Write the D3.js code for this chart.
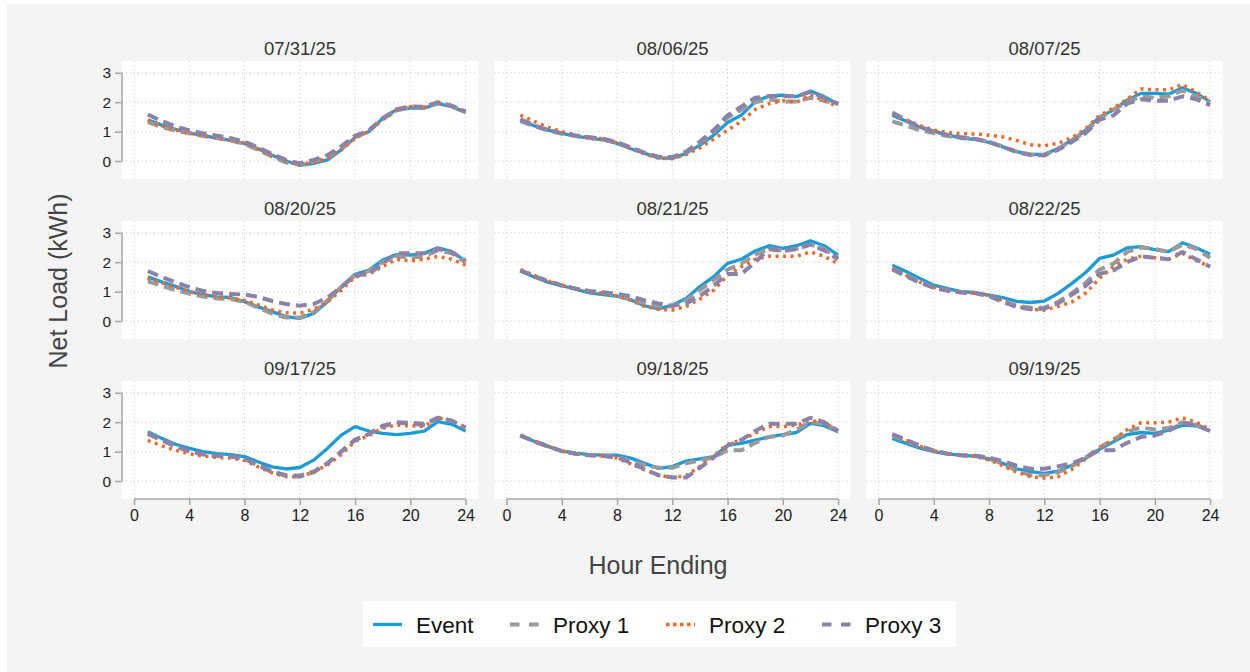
<!DOCTYPE html>
<html>
<head>
<meta charset="utf-8">
<script src="https://cdn.jsdelivr.net/npm/d3@7/dist/d3.min.js"></script>
<style>
  html, body { margin: 0; padding: 0; background: #ffffff; }
  svg { display: block; font-family: "Liberation Sans", Arial, sans-serif; }
</style>
</head>
<body>
<svg id="chart" width="1250" height="672"></svg>
<script>
// Hourly net load (kWh) for each event day and its three proxy baselines
const dates = ["07/31/25", "08/06/25", "08/07/25", "08/20/25", "08/21/25", "08/22/25", "09/17/25", "09/18/25", "09/19/25"];
const hours = [1, 2, 3, 4, 5, 6, 7, 8, 9, 10, 11, 12, 13, 14, 15, 16, 17, 18, 19, 20, 21, 22, 23, 24];
const xTicks = [0, 4, 8, 12, 16, 20, 24];
const yTicks = [0, 1, 2, 3];
const seriesNames = ["Event", "Proxy 1", "Proxy 2", "Proxy 3"];

const eventLoad = [
  [1.40, 1.22, 1.08, 0.96, 0.86, 0.78, 0.70, 0.60, 0.42, 0.20, 0.00, -0.15, -0.08, 0.04, 0.38, 0.80, 1.00, 1.45, 1.75, 1.80, 1.80, 1.95, 1.85, 1.65],
  [1.39, 1.20, 1.05, 0.94, 0.85, 0.78, 0.72, 0.60, 0.42, 0.26, 0.11, 0.09, 0.26, 0.54, 0.88, 1.31, 1.56, 2.02, 2.21, 2.24, 2.19, 2.38, 2.19, 1.93],
  [1.56, 1.35, 1.15, 1.02, 0.90, 0.77, 0.74, 0.63, 0.48, 0.32, 0.23, 0.23, 0.43, 0.71, 1.05, 1.50, 1.73, 2.07, 2.30, 2.30, 2.27, 2.49, 2.30, 2.02],
  [1.50, 1.33, 1.18, 1.00, 0.90, 0.82, 0.80, 0.66, 0.48, 0.32, 0.15, 0.09, 0.26, 0.66, 1.17, 1.59, 1.73, 2.07, 2.26, 2.24, 2.30, 2.49, 2.36, 2.04],
  [1.70, 1.50, 1.32, 1.20, 1.08, 0.96, 0.90, 0.85, 0.72, 0.52, 0.41, 0.54, 0.77, 1.17, 1.51, 1.96, 2.10, 2.38, 2.56, 2.47, 2.56, 2.73, 2.56, 2.24],
  [1.90, 1.68, 1.45, 1.22, 1.10, 1.00, 0.97, 0.88, 0.80, 0.67, 0.63, 0.68, 0.94, 1.28, 1.65, 2.13, 2.24, 2.49, 2.53, 2.43, 2.36, 2.66, 2.49, 2.27],
  [1.68, 1.45, 1.25, 1.11, 1.00, 0.93, 0.90, 0.83, 0.65, 0.48, 0.41, 0.46, 0.71, 1.11, 1.56, 1.85, 1.70, 1.62, 1.58, 1.62, 1.70, 2.02, 1.93, 1.70],
  [1.54, 1.35, 1.18, 1.02, 0.95, 0.90, 0.88, 0.88, 0.78, 0.60, 0.43, 0.49, 0.68, 0.75, 0.83, 1.22, 1.28, 1.39, 1.50, 1.58, 1.65, 1.96, 1.88, 1.68],
  [1.45, 1.28, 1.12, 1.00, 0.92, 0.87, 0.85, 0.75, 0.60, 0.41, 0.32, 0.26, 0.34, 0.54, 0.77, 1.08, 1.33, 1.58, 1.65, 1.62, 1.73, 1.90, 1.88, 1.70]
];

const proxy1Load = [
  [1.32, 1.16, 1.04, 0.94, 0.85, 0.78, 0.70, 0.58, 0.38, 0.15, -0.05, -0.12, -0.02, 0.12, 0.42, 0.82, 1.02, 1.42, 1.72, 1.82, 1.82, 1.98, 1.88, 1.68],
  [1.36, 1.18, 1.04, 0.93, 0.85, 0.78, 0.73, 0.62, 0.45, 0.28, 0.14, 0.12, 0.30, 0.62, 1.00, 1.48, 1.74, 2.00, 2.10, 2.02, 2.02, 2.15, 2.05, 1.94],
  [1.35, 1.20, 1.05, 0.95, 0.85, 0.80, 0.75, 0.65, 0.50, 0.32, 0.22, 0.20, 0.42, 0.70, 1.00, 1.45, 1.75, 2.00, 2.20, 2.15, 2.20, 2.40, 2.20, 2.00],
  [1.35, 1.20, 1.05, 0.93, 0.83, 0.77, 0.75, 0.65, 0.45, 0.25, 0.12, 0.12, 0.30, 0.70, 1.15, 1.55, 1.70, 2.00, 2.20, 2.15, 2.20, 2.40, 2.30, 2.00],
  [1.72, 1.52, 1.35, 1.20, 1.10, 1.00, 0.95, 0.88, 0.75, 0.60, 0.50, 0.50, 0.70, 1.05, 1.40, 1.75, 1.95, 2.25, 2.45, 2.40, 2.45, 2.60, 2.45, 2.15],
  [1.78, 1.55, 1.32, 1.15, 1.05, 0.98, 0.95, 0.85, 0.68, 0.52, 0.45, 0.45, 0.65, 0.95, 1.30, 1.75, 1.95, 2.35, 2.50, 2.45, 2.35, 2.60, 2.45, 2.15],
  [1.60, 1.38, 1.18, 1.00, 0.90, 0.85, 0.83, 0.75, 0.52, 0.30, 0.18, 0.15, 0.30, 0.60, 1.00, 1.40, 1.60, 1.85, 1.98, 1.95, 1.90, 2.15, 2.05, 1.80],
  [1.55, 1.35, 1.18, 1.02, 0.93, 0.88, 0.87, 0.82, 0.68, 0.55, 0.45, 0.45, 0.60, 0.70, 0.80, 1.05, 1.05, 1.30, 1.50, 1.55, 1.75, 2.00, 1.95, 1.72],
  [1.55, 1.36, 1.17, 1.02, 0.93, 0.88, 0.86, 0.78, 0.58, 0.35, 0.20, 0.20, 0.30, 0.50, 0.80, 1.15, 1.40, 1.68, 1.82, 1.75, 1.80, 2.00, 1.92, 1.72]
];

const proxy2Load = [
  [1.38, 1.20, 1.06, 0.95, 0.86, 0.79, 0.71, 0.60, 0.40, 0.18, 0.00, -0.12, -0.04, 0.08, 0.38, 0.78, 1.00, 1.42, 1.72, 1.85, 1.82, 1.98, 1.86, 1.66],
  [1.56, 1.35, 1.15, 1.00, 0.88, 0.80, 0.75, 0.62, 0.42, 0.24, 0.10, 0.08, 0.22, 0.45, 0.75, 1.05, 1.35, 1.75, 1.95, 2.05, 2.00, 2.25, 2.05, 1.85],
  [1.60, 1.40, 1.20, 1.05, 0.97, 0.93, 0.92, 0.88, 0.82, 0.70, 0.55, 0.52, 0.60, 0.80, 1.10, 1.55, 1.80, 2.10, 2.45, 2.42, 2.42, 2.60, 2.35, 2.05],
  [1.45, 1.30, 1.15, 1.00, 0.90, 0.82, 0.78, 0.70, 0.55, 0.38, 0.28, 0.27, 0.40, 0.65, 1.05, 1.50, 1.60, 1.85, 2.10, 2.05, 2.10, 2.20, 2.10, 1.90],
  [1.75, 1.55, 1.37, 1.22, 1.10, 1.00, 0.95, 0.85, 0.70, 0.50, 0.40, 0.37, 0.50, 0.75, 1.05, 1.55, 1.85, 2.10, 2.20, 2.20, 2.20, 2.35, 2.20, 1.95],
  [1.80, 1.55, 1.32, 1.15, 1.05, 0.98, 0.95, 0.87, 0.70, 0.50, 0.40, 0.37, 0.50, 0.65, 0.95, 1.45, 1.85, 2.10, 2.20, 2.15, 2.10, 2.30, 2.05, 1.85],
  [1.38, 1.20, 1.05, 0.93, 0.85, 0.80, 0.78, 0.70, 0.48, 0.28, 0.15, 0.15, 0.30, 0.55, 0.90, 1.35, 1.55, 1.80, 1.90, 1.88, 1.85, 2.15, 2.05, 1.82],
  [1.55, 1.35, 1.18, 1.02, 0.93, 0.88, 0.85, 0.78, 0.58, 0.38, 0.20, 0.12, 0.18, 0.50, 0.85, 1.25, 1.40, 1.62, 1.85, 1.85, 1.90, 2.05, 2.00, 1.70],
  [1.58, 1.38, 1.18, 1.03, 0.93, 0.87, 0.84, 0.72, 0.52, 0.30, 0.15, 0.10, 0.15, 0.40, 0.75, 1.10, 1.40, 1.75, 1.98, 1.98, 2.00, 2.15, 2.00, 1.75]
];

const proxy3Load = [
  [1.58, 1.36, 1.18, 1.04, 0.94, 0.86, 0.78, 0.66, 0.46, 0.24, 0.04, -0.08, 0.04, 0.20, 0.50, 0.86, 1.04, 1.46, 1.76, 1.86, 1.84, 2.00, 1.88, 1.68],
  [1.42, 1.22, 1.06, 0.95, 0.87, 0.81, 0.76, 0.64, 0.46, 0.28, 0.14, 0.13, 0.32, 0.66, 1.05, 1.55, 1.85, 2.15, 2.20, 2.20, 2.20, 2.35, 2.15, 1.95],
  [1.65, 1.40, 1.15, 1.00, 0.88, 0.80, 0.75, 0.65, 0.48, 0.30, 0.20, 0.20, 0.38, 0.65, 0.95, 1.40, 1.55, 1.95, 2.10, 2.05, 2.05, 2.20, 2.10, 1.90],
  [1.70, 1.50, 1.32, 1.15, 1.02, 0.95, 0.92, 0.90, 0.82, 0.68, 0.58, 0.52, 0.58, 0.80, 1.15, 1.55, 1.60, 1.95, 2.30, 2.30, 2.30, 2.45, 2.35, 2.05],
  [1.72, 1.52, 1.35, 1.22, 1.10, 1.02, 0.98, 0.92, 0.85, 0.70, 0.60, 0.52, 0.60, 0.85, 1.20, 1.60, 1.60, 2.00, 2.45, 2.38, 2.45, 2.60, 2.40, 2.10],
  [1.75, 1.52, 1.30, 1.13, 1.03, 0.97, 0.95, 0.85, 0.65, 0.48, 0.40, 0.42, 0.60, 0.90, 1.20, 1.60, 1.72, 2.00, 2.20, 2.15, 2.10, 2.35, 2.10, 1.85],
  [1.62, 1.40, 1.20, 1.02, 0.92, 0.86, 0.84, 0.76, 0.55, 0.32, 0.20, 0.18, 0.32, 0.60, 1.00, 1.40, 1.60, 1.88, 2.00, 1.98, 1.95, 2.15, 2.05, 1.82],
  [1.55, 1.35, 1.18, 1.02, 0.93, 0.88, 0.85, 0.80, 0.62, 0.40, 0.20, 0.12, 0.12, 0.45, 0.80, 1.20, 1.40, 1.70, 1.95, 1.95, 1.95, 2.15, 2.00, 1.70],
  [1.60, 1.40, 1.20, 1.03, 0.93, 0.88, 0.86, 0.80, 0.68, 0.52, 0.42, 0.42, 0.50, 0.60, 0.80, 1.05, 1.05, 1.30, 1.50, 1.55, 1.70, 1.98, 1.90, 1.70]
];

// Stroke styles per series: colour, width, dash pattern (panels / legend)
const seriesStyle = [
  { color: "#1b9bd7", width: 3.3, dash: null,      legendDash: null },
  { color: "#9a9a9a", width: 4,   dash: "11,6",    legendDash: "9.5,9.5" },
  { color: "#ea6b2b", width: 3.5, dash: "3,4.5",   legendDash: "3.5,3.5" },
  { color: "#8b82aa", width: 4,   dash: "11,6",    legendDash: "9.5,9.5" }
];
const seriesData = [eventLoad, proxy1Load, proxy2Load, proxy3Load];

const svg = d3.select("#chart");
svg.append("rect").attr("x", 7).attr("y", 4).attr("width", 1243).attr("height", 668).attr("fill", "#f4f4f4");

const colX = [122, 494.5, 866.5];
const rowY = [61, 221, 381];
const pw = 356, ph = 118;

const x = d3.scaleLinear().domain([-0.87, 24.9]).range([0, pw]);
const y = d3.scaleLinear().domain([-0.61, 3.4]).range([ph, 0]);

const line = d3.line().x((d, i) => x(hours[i])).y(d => y(d));

const axisColor = "#a6a6a6";
const gridColor = "#c4c4c4";

dates.forEach((date, p) => {
  const col = p % 3, row = Math.floor(p / 3);
  const g = svg.append("g").attr("transform", `translate(${colX[col]},${rowY[row]})`);

  g.append("rect").attr("width", pw).attr("height", ph).attr("fill", "#ffffff");

  // dotted grid
  g.selectAll(".vgrid").data(xTicks).join("line")
    .attr("x1", d => x(d)).attr("x2", d => x(d))
    .attr("y1", 0).attr("y2", ph)
    .attr("stroke", gridColor).attr("stroke-width", 1).attr("stroke-dasharray", "1,3");
  g.selectAll(".hgrid").data(yTicks).join("line")
    .attr("x1", 0).attr("x2", pw)
    .attr("y1", d => y(d)).attr("y2", d => y(d))
    .attr("stroke", gridColor).attr("stroke-width", 1).attr("stroke-dasharray", "1,3");

  // series lines
  seriesData.forEach((arr, s) => {
    const st = seriesStyle[s];
    g.append("path")
      .attr("d", line(arr[p]))
      .attr("fill", "none")
      .attr("stroke", st.color)
      .attr("stroke-width", st.width)
      .attr("stroke-dasharray", st.dash)
      .attr("stroke-linejoin", "round");
  });

  // panel title
  g.append("text")
    .attr("x", pw / 2).attr("y", -6)
    .attr("text-anchor", "middle")
    .attr("font-size", 18.5).attr("fill", "#333333")
    .text(date);

  // y axis on first column
  if (col === 0) {
    const ya = g.append("g").call(d3.axisLeft(y).tickValues(yTicks).tickSize(7).tickPadding(4).tickFormat(d3.format("d")));
    ya.select(".domain").remove();
    ya.selectAll(".tick line").attr("stroke", axisColor).attr("stroke-width", 1.5);
    ya.selectAll(".tick text").attr("font-size", 15.5).attr("fill", "#222").attr("font-family", "Liberation Sans, Arial, sans-serif");
    ya.append("line").attr("x1", 0).attr("x2", 0).attr("y1", y(3)).attr("y2", y(0))
      .attr("stroke", axisColor).attr("stroke-width", 1.5);
  }

  // x axis on bottom row
  if (row === 2) {
    const xa = g.append("g").attr("transform", `translate(0,${ph})`)
      .call(d3.axisBottom(x).tickValues(xTicks).tickSize(6).tickPadding(5).tickFormat(d3.format("d")));
    xa.select(".domain").remove();
    xa.selectAll(".tick line").attr("stroke", axisColor).attr("stroke-width", 1.5);
    xa.selectAll(".tick text").attr("font-size", 16).attr("fill", "#222").attr("font-family", "Liberation Sans, Arial, sans-serif");
    xa.append("line").attr("x1", x(0)).attr("x2", x(24)).attr("y1", 0).attr("y2", 0)
      .attr("stroke", axisColor).attr("stroke-width", 1.5);
  }
});

// axis titles
svg.append("text")
  .attr("transform", "translate(67,281) rotate(-90)")
  .attr("text-anchor", "middle")
  .attr("font-size", 25).attr("fill", "#444444")
  .text("Net Load (kWh)");

svg.append("text")
  .attr("x", 658).attr("y", 574)
  .attr("text-anchor", "middle")
  .attr("font-size", 25).attr("fill", "#444444")
  .text("Hour Ending");

// legend
const legend = svg.append("g");
legend.append("rect").attr("x", 363).attr("y", 601).attr("width", 593).attr("height", 46).attr("fill", "#ffffff");
const legendX = [373, 510, 666, 822];
seriesNames.forEach((name, s) => {
  const st = seriesStyle[s];
  legend.append("line")
    .attr("x1", legendX[s]).attr("x2", legendX[s] + 29)
    .attr("y1", 624.5).attr("y2", 624.5)
    .attr("stroke", st.color).attr("stroke-width", st.width)
    .attr("stroke-dasharray", st.legendDash);
  legend.append("text")
    .attr("x", legendX[s] + 43).attr("y", 632.5)
    .attr("font-size", 22.5).attr("fill", "#111111")
    .text(name);
});
</script>
</body>
</html>
